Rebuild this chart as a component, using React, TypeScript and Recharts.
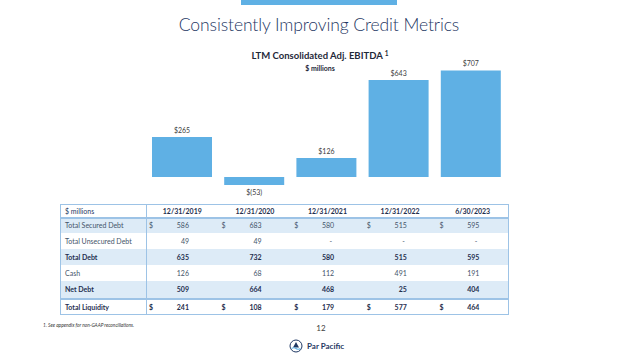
import React from "react";
import { BarChart, Bar, XAxis, YAxis, LabelList } from "recharts";

const periods = ["12/31/2019", "12/31/2020", "12/31/2021", "12/31/2022", "6/30/2023"];
const ebitda = [265, -53, 126, 643, 707];

const securedDebt = [586, 683, 580, 515, 595];
const unsecuredDebt = [49, 49, null, null, null];
const totalDebt = [635, 732, 580, 515, 595];
const cash = [126, 68, 112, 491, 191];
const netDebt = [509, 664, 468, 25, 404];
const totalLiquidity = [241, 108, 179, 577, 464];

const chartData = periods.map((p, i) => ({ period: p, value: ebitda[i] }));

type Row = { label: string; values: (number | null)[]; bold: boolean; dollar: boolean; shaded: boolean; h: number };
const rows: Row[] = [
  { label: "Total Secured Debt", values: securedDebt, bold: false, dollar: true, shaded: true, h: 15 },
  { label: "Total Unsecured Debt", values: unsecuredDebt, bold: false, dollar: false, shaded: false, h: 16 },
  { label: "Total Debt", values: totalDebt, bold: true, dollar: false, shaded: true, h: 16 },
  { label: "Cash", values: cash, bold: false, dollar: false, shaded: false, h: 16 },
  { label: "Net Debt", values: netDebt, bold: true, dollar: false, shaded: true, h: 17 },
];
const lastRow: Row = { label: "Total Liquidity", values: totalLiquidity, bold: true, dollar: true, shaded: false, h: 15 };

const FONT = "Lato, 'Noto Sans', sans-serif";
const BLUE = "#5FB0E4";
const NAVY = "#1F3864";
const TXT = "#44546A";
const TXTB = "#1F2F4F";
const SHADE = "#DDEBF7";
const BORDER = "#9DC3E6";

const TABLE_LEFT = 60;
const LABEL_W = 86;
const COL_W = 72.6;

const BarLabel = (props: any) => {
  const { x, y, width, height, value } = props;
  const neg = value < 0;
  const cx = x + width / 2;
  const text = neg ? `$(${Math.abs(value)})` : `$${value}`;
  const top = Math.min(y, y + height);
  const bottom = Math.max(y, y + height);
  const ty = neg ? bottom + 10 : top - 4;
  return (
    <text x={cx} y={ty} textAnchor="middle" fontSize={7} fontFamily={FONT} fill="#404040">
      {text}
    </text>
  );
};

function TableRow({ row, top }: { row: Row; top: number }) {
  const color = row.bold ? TXTB : TXT;
  const weight = row.bold ? 700 : 400;
  return (
    <div style={{ position: "absolute", left: TABLE_LEFT, top, width: LABEL_W + COL_W * 5, height: row.h, background: row.shaded ? SHADE : "transparent" }}>
      <div style={{ position: "absolute", left: 5, top: 0, lineHeight: `${row.h}px`, fontSize: 7, fontWeight: weight, color, whiteSpace: "nowrap" }}>{row.label}</div>
      {row.values.map((v, i) => {
        const colLeft = LABEL_W + COL_W * i;
        return (
          <React.Fragment key={i}>
            {row.dollar && (
              <div style={{ position: "absolute", left: colLeft + 3, top: 0, lineHeight: `${row.h}px`, fontSize: 7, fontWeight: weight, color }}>$</div>
            )}
            <div style={{ position: "absolute", left: colLeft, width: v === null ? 41 : 43, top: 0, lineHeight: `${row.h}px`, fontSize: 7, fontWeight: weight, color, textAlign: "right" }}>
              {v === null ? "-" : v}
            </div>
          </React.Fragment>
        );
      })}
    </div>
  );
}

export default function App() {
  let y = 218;
  const rowTops = rows.map((r) => {
    const t = y;
    y += r.h;
    return t;
  });
  const tableW = LABEL_W + COL_W * 5;
  return (
    <div style={{ position: "absolute", left: 0, top: 0, width: 640, height: 359, background: "#fff", fontFamily: FONT, overflow: "hidden" }}>
      <div style={{ position: "absolute", left: 241, top: 0, width: 156, height: 5, background: BLUE }} />
      <div style={{ position: "absolute", left: 0, top: 11, width: 638, textAlign: "center", fontSize: 17.5, fontWeight: 300, color: NAVY, lineHeight: "28px", letterSpacing: -0.1 }}>
        Consistently Improving Credit Metrics
      </div>
      <div style={{ position: "absolute", left: 0, top: 50, width: 640, textAlign: "center", fontSize: 9.5, fontWeight: 700, color: "#1F2A3A", lineHeight: "12px" }}>
        LTM Consolidated Adj. EBITDA <span style={{ fontSize: 6.5, verticalAlign: "top", position: "relative", top: -2 }}>1</span>
      </div>
      <div style={{ position: "absolute", left: 0, top: 63, width: 640, textAlign: "center", fontSize: 7, fontWeight: 700, color: "#1F2A3A", lineHeight: "10px" }}>
        $ millions
      </div>

      <div style={{ position: "absolute", left: 0, top: 0 }}>
        <BarChart width={640} height={200} data={chartData} margin={{ top: 64, right: 133, bottom: 11, left: 146 }}>
          <XAxis dataKey="period" hide />
          <YAxis hide domain={[-80, 750]} />
          <Bar dataKey="value" fill={BLUE} barSize={60} isAnimationActive={false}>
            <LabelList dataKey="value" content={BarLabel} />
          </Bar>
        </BarChart>
      </div>

      {/* table */}
      <div style={{ position: "absolute", left: TABLE_LEFT, top: 204, width: tableW, height: 14 }}>
        <div style={{ position: "absolute", left: 5, top: 0, lineHeight: "14px", fontSize: 7, color: NAVY }}>$ millions</div>
        {periods.map((p, i) => (
          <div key={p} style={{ position: "absolute", left: LABEL_W + COL_W * i, width: COL_W, top: 0, lineHeight: "14px", fontSize: 7, fontWeight: 700, color: TXTB, textAlign: "center" }}>
            {p}
          </div>
        ))}
      </div>
      {rows.map((r, i) => (
        <TableRow key={r.label} row={r} top={rowTops[i]} />
      ))}
      <TableRow row={lastRow} top={300} />
      {/* borders */}
      <div style={{ position: "absolute", left: TABLE_LEFT, top: 204, width: tableW, height: 111, border: `1px solid ${BORDER}`, boxSizing: "border-box" }} />
      <div style={{ position: "absolute", left: TABLE_LEFT, top: 217, width: tableW, height: 1.5, background: BORDER }} />
      <div style={{ position: "absolute", left: TABLE_LEFT, top: 297.5, width: tableW, height: 2.5, background: BORDER }} />
      <div style={{ position: "absolute", left: TABLE_LEFT + LABEL_W, top: 204, width: 1, height: 111, background: BORDER }} />

      <div style={{ position: "absolute", left: 43, top: 322, fontSize: 4.8, fontStyle: "italic", color: "#333", whiteSpace: "nowrap" }}>
        1. See appendix for non-GAAP reconciliations.
      </div>
      <div style={{ position: "absolute", left: 300, width: 42, top: 323, textAlign: "center", fontSize: 8, color: "#404040" }}>12</div>
      <div style={{ position: "absolute", left: 289, top: 339, display: "flex", alignItems: "center" }}>
        <svg width={14} height={14} viewBox="0 0 14 14">
          <circle cx={7} cy={7} r={6} fill="none" stroke={NAVY} strokeWidth={1} />
          <path d="M7 3 L10 8.5 L4 8.5 Z" fill={NAVY} />
          <path d="M2.5 9.5 Q5 8 7 9.5 T11.5 9.5" fill="none" stroke={BLUE} strokeWidth={1.2} />
        </svg>
        <span style={{ marginLeft: 4, fontSize: 8, fontWeight: 700, color: NAVY }}>Par Pacific</span>
      </div>
    </div>
  );
}
